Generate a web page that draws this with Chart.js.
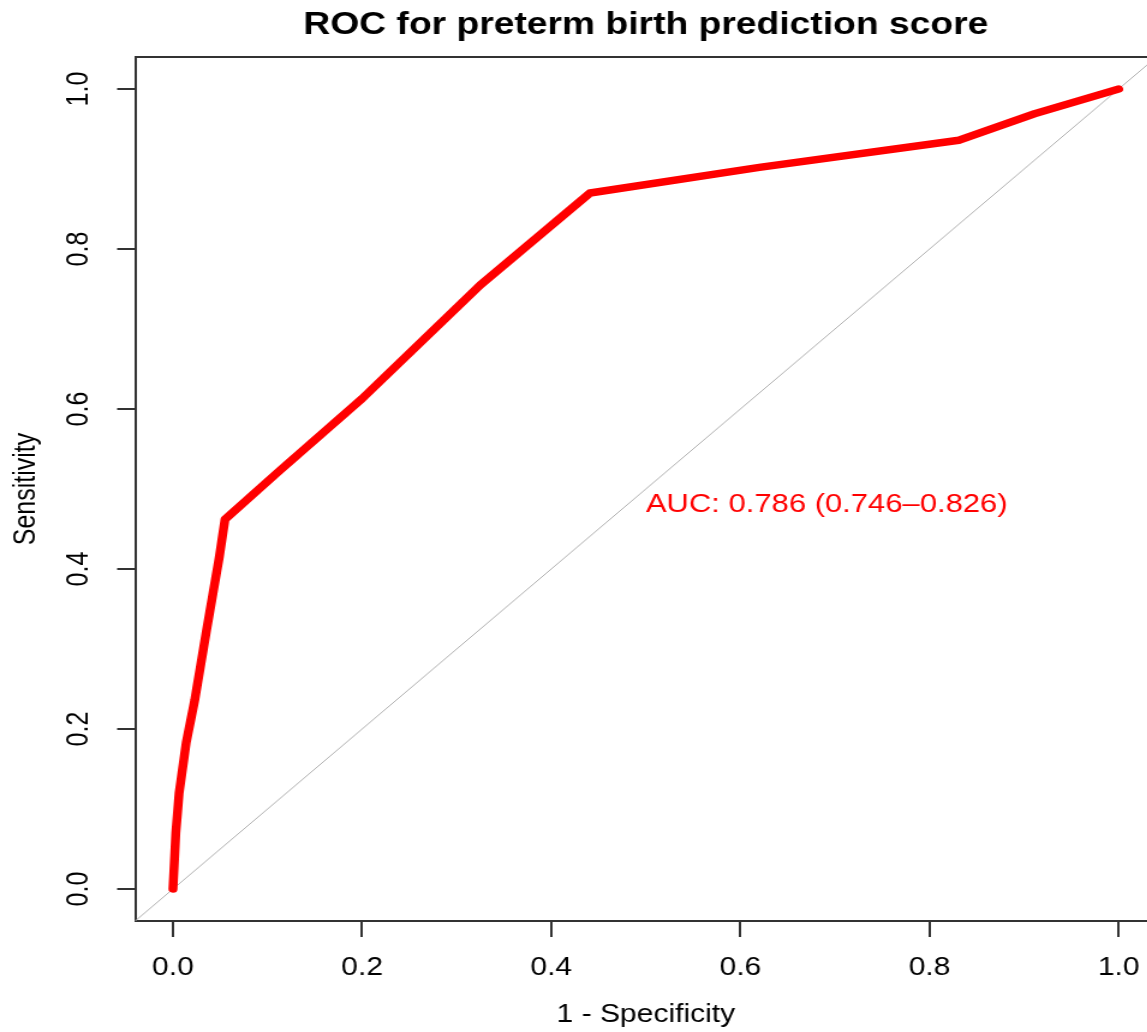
<!DOCTYPE html>
<html>
<head>
<meta charset="utf-8">
<title>ROC for preterm birth prediction score</title>
<script src="https://cdn.jsdelivr.net/npm/chart.js@4"></script>
<style>
  html, body { margin: 0; padding: 0; background: #fff; overflow: hidden; }
  /* the original picture is stretched sideways, so the canvas is too */
  .wrap { width: 966.5px; height: 1032px; transform: scaleX(1.2); transform-origin: 0 0; }
</style>
</head>
<body>
<div class="wrap"><canvas id="rocChart"></canvas></div>
<script>
/* data */
const fpr = [0, 0.003, 0.0065, 0.014, 0.023, 0.035, 0.049, 0.055, 0.11, 0.2, 0.325, 0.441, 0.62, 0.831, 0.911, 1.0];
const tpr = [0, 0.07, 0.12, 0.183, 0.236, 0.32, 0.415, 0.462, 0.52, 0.613, 0.755, 0.87, 0.902, 0.936, 0.969, 1.0];
const xTicks = [0, 0.2, 0.4, 0.6, 0.8, 1.0];
const yTicks = [0, 0.2, 0.4, 0.6, 0.8, 1.0];
const aucText = 'AUC: 0.786 (0.746\u20130.826)';

const axisMin = -0.04;
const axisMax = 1.04;
const fontFamily = '"Liberation Sans", Arial, sans-serif';

const rocPoints = fpr.map((x, i) => ({ x: x, y: tpr[i] }));
const diagonal = [{ x: axisMin, y: axisMin }, { x: axisMax, y: axisMax }];

/* AUC label, drawn through the scales */
const aucLabel = {
    id: 'aucLabel',
    afterDatasetsDraw(chart) {
        const ctx = chart.ctx;
        const px = chart.scales.x.getPixelForValue(0.5);
        const py = chart.scales.y.getPixelForValue(0.48);
        ctx.save();
        ctx.font = '25.8px ' + fontFamily;
        ctx.fillStyle = '#ff0000';
        ctx.textAlign = 'left';
        ctx.textBaseline = 'middle';
        ctx.fillText(aucText, px, py);
        ctx.restore();
    }
};

const ctx = document.getElementById('rocChart').getContext('2d');
const rocChart = new Chart(ctx, {
    type: 'line',
    data: {
        datasets: [{
            data: rocPoints,
            borderColor: '#ff0000',
            borderWidth: 7.5,
            borderCapStyle: 'round',
            borderJoinStyle: 'round',
            pointRadius: 0,
            tension: 0
        },
        {
            data: diagonal,
            borderColor: '#b0b0b0',
            borderWidth: 1,
            pointRadius: 0,
            tension: 0
        }]
    },
    options: {
        responsive: true,
        maintainAspectRatio: false,
        animation: false,
        layout: { padding: 0 },
        plugins: {
            legend: { display: false },
            tooltip: { enabled: false }
        },
        scales: {
            x: {
                type: 'linear',
                position: 'bottom',
                min: axisMin,
                max: axisMax,
                afterBuildTicks: (scale) => { scale.ticks = xTicks.map(v => ({ value: v })); },
                afterFit: (scale) => { scale.height = 111; },
                ticks: {
                    callback: (v) => v.toFixed(1),
                    color: '#000',
                    font: { family: fontFamily, size: 25 },
                    padding: 16,
                    maxRotation: 0
                },
                grid: { drawOnChartArea: false, tickLength: 16, color: '#333', lineWidth: 2 },
                border: { display: true, color: '#333', width: 2 },
                title: {
                    display: true,
                    text: '1 - Specificity',
                    color: '#000',
                    font: { family: fontFamily, size: 25 },
                    padding: { top: 0, bottom: 2 }
                }
            },
            top: {
                type: 'linear',
                position: 'top',
                min: axisMin,
                max: axisMax,
                afterFit: (scale) => { scale.height = 57; },
                ticks: { display: false },
                grid: { display: false, drawTicks: false },
                border: { display: true, color: '#333', width: 2 },
                title: {
                    display: true,
                    text: 'ROC for preterm birth prediction score',
                    color: '#000',
                    font: { family: fontFamily, size: 31, weight: 'bold' },
                    padding: { top: 7, bottom: 0 }
                }
            },
            y: {
                type: 'linear',
                position: 'left',
                min: axisMin,
                max: axisMax,
                afterBuildTicks: (scale) => { scale.ticks = yTicks.map(v => ({ value: v })); },
                afterFit: (scale) => { scale.width = 112.5; },
                ticks: {
                    callback: (v) => v.toFixed(1),
                    color: '#000',
                    font: { family: fontFamily, size: 25 },
                    padding: 14,
                    minRotation: 90,
                    maxRotation: 90,
                    crossAlign: 'center'
                },
                grid: { drawOnChartArea: false, tickLength: 15, color: '#333', lineWidth: 2 },
                border: { display: true, color: '#333', width: 2 },
                title: {
                    display: true,
                    text: 'Sensitivity',
                    color: '#000',
                    font: { family: fontFamily, size: 25 },
                    padding: { top: 7.5, bottom: 0 }
                }
            }
        }
    },
    plugins: [aucLabel]
});
</script>
</body>
</html>
